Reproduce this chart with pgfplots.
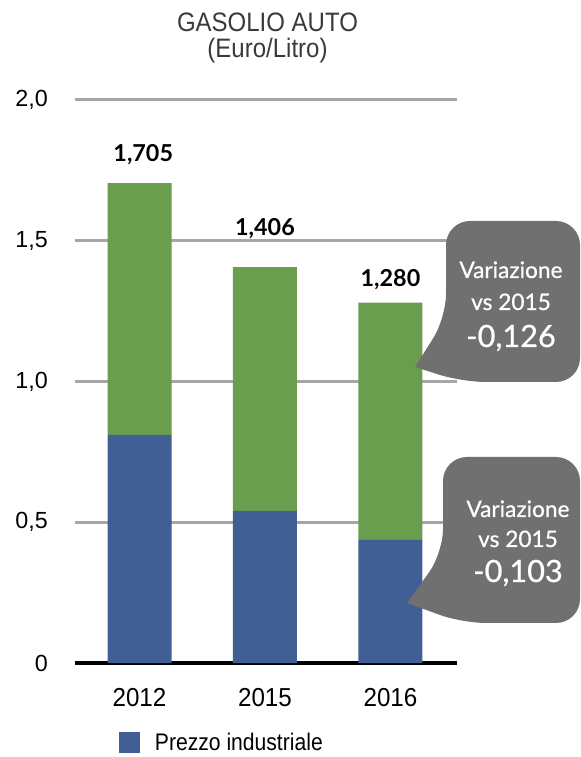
\documentclass[border=0pt]{standalone}
\usepackage{pgfplots}
\pgfplotsset{compat=1.18}
\usepackage{fontspec}
\setmainfont{Liberation Sans}
\newfontfamily\xtickfont[FakeStretch=0.93]{Liberation Sans}
\newfontfamily\titlefont[FakeStretch=0.9]{Liberation Sans}
\newfontfamily\legfont[FakeStretch=0.88]{Liberation Sans}
\newfontfamily\latofont{Lato}
\newfontfamily\bubblefont[FakeBold=0.7]{Lato}
\definecolor{bargreen}{HTML}{6A9D4E}
\definecolor{barblue}{HTML}{415F94}
\definecolor{bubble}{HTML}{707070}
\definecolor{gridgray}{HTML}{A6A6A6}
\definecolor{titlegray}{HTML}{3A3A3A}
\begin{document}
\begin{tikzpicture}
\useasboundingbox (0,0) rectangle (435.75pt,567.75pt);
\begin{axis}[
  at={(56.25pt,70.5pt)}, anchor=south west,
  scale only axis, width=286.5pt, height=422.25pt,
  xmin=-0.514, xmax=2.530, ymin=0, ymax=2,
  clip=false,
  ybar stacked, bar width=0.51,
  axis line style={draw=none}, major tick length=0pt,
  xtick={0,1,2}, xticklabels={2012,2015,2016},
  ytick={0.5,1,1.5,2}, yticklabels={{0,5},{1,0},{1,5},{2,0}},
  extra y ticks={0}, extra y tick labels={0},
  extra y tick style={grid style={black, line width=3pt}},
  ymajorgrids, grid style={gridgray, line width=2.25pt},
  yticklabel style={anchor=east, inner sep=0pt, xshift=-20.25pt, font=\fontsize{17.5}{17.5}\selectfont},
  xticklabel style={anchor=base, inner sep=0pt, yshift=-32.25pt, font=\xtickfont\fontsize{19.5}{19.5}\selectfont},
  legend style={draw=none, fill=none, at={(0.1152,-0.142)}, anchor=west, inner sep=0pt,
    font=\legfont\fontsize{18}{18}\selectfont, legend cell align=left},
  legend image code/.code={\fill[barblue] (0pt,-7.875pt) rectangle (15.75pt,7.875pt);},
]
\addplot[fill=barblue, draw=none] coordinates {(0,0.810) (1,0.540) (2,0.437)};
\addlegendentry{\hspace*{9pt}Prezzo industriale}
\addplot[fill=bargreen, draw=none, forget plot] coordinates {(0,0.895) (1,0.866) (2,0.843)};
\node[anchor=base, inner sep=0pt, font=\latofont\bfseries\fontsize{17.5}{17.5}\selectfont] at (axis cs:0.03,1.783) {1,705};
\node[anchor=base, inner sep=0pt, font=\latofont\bfseries\fontsize{17.5}{17.5}\selectfont] at (axis cs:1,1.520) {1,406};
\node[anchor=base, inner sep=0pt, font=\latofont\bfseries\fontsize{17.5}{17.5}\selectfont] at (axis cs:2,1.339) {1,280};
\end{axis}
\begin{scope}[x=0.75pt, y=-0.75pt, yshift=567.75pt]
  % title
  \node[anchor=base, inner sep=0pt, text=titlegray, font=\titlefont\fontsize{20}{20}\selectfont] at (267.5,32) {GASOLIO AUTO};
  \node[anchor=base, inner sep=0pt, text=titlegray, font=\titlefont\fontsize{20}{20}\selectfont] at (267.5,58) {(Euro/Litro)};
  % upper callout
  \fill[bubble] (415,367) [rounded corners=18pt] -- (446,318) -- (446,221) -- (580,221) -- (580,382) -- (462,382) [sharp corners] -- cycle;
  \node[anchor=base, inner sep=0pt, text=white, font=\bubblefont\fontsize{17}{17}\selectfont] at (511,278) {Variazione};
  \node[anchor=base, inner sep=0pt, text=white, font=\bubblefont\fontsize{17}{17}\selectfont] at (511,310) {vs 2015};
  \node[anchor=base, inner sep=0pt, text=white, font=\bubblefont\fontsize{23}{23}\selectfont] at (511,347) {-0,126};
  % lower callout
  \fill[bubble] (407,603) [rounded corners=18pt] -- (443,553) -- (443,457) -- (580,457) -- (580,623) -- (462,623) [sharp corners] -- cycle;
  \node[anchor=base, inner sep=0pt, text=white, font=\bubblefont\fontsize{17}{17}\selectfont] at (518,517) {Variazione};
  \node[anchor=base, inner sep=0pt, text=white, font=\bubblefont\fontsize{17}{17}\selectfont] at (518,547) {vs 2015};
  \node[anchor=base, inner sep=0pt, text=white, font=\bubblefont\fontsize{23}{23}\selectfont] at (518,582) {-0,103};
\end{scope}
\end{tikzpicture}
\end{document}
